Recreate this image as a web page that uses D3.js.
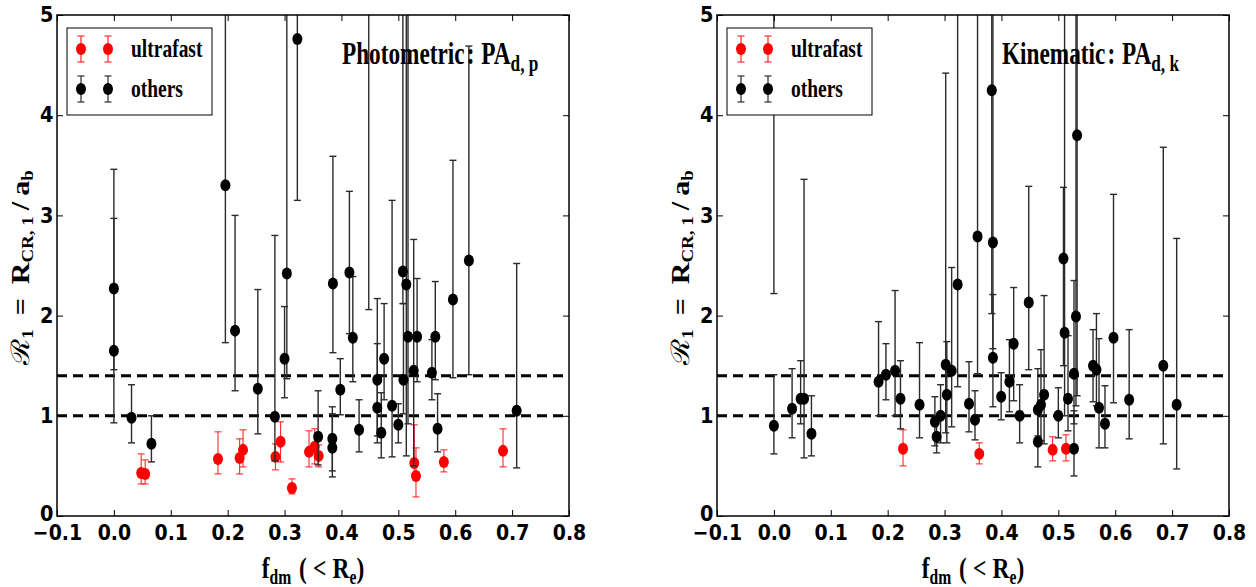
<!DOCTYPE html>
<html>
<head>
<meta charset="utf-8">
<script src="https://cdn.jsdelivr.net/npm/d3@7"></script>
<style>
  body { margin: 0; background: #fff; }
  svg { display: block; }
</style>
</head>
<body>
<div id="chart"></div>
<script>

// axis ticks and reference levels
var fdmTicks = [-0.1, 0.0, 0.1, 0.2, 0.3, 0.4, 0.5, 0.6, 0.7, 0.8];
var ratioTicks = [0, 1, 2, 3, 4, 5];
var refLines = [1.0, 1.4];
var seriesNames = ["ultrafast", "others"];

// rows are [f_dm, R, lower end of error bar, upper end of error bar]
var photUltrafast = [
    [0.048, 0.43, 0.32, 0.62], [0.055, 0.42, 0.32, 0.56], [0.183, 0.57, 0.42, 0.84],
    [0.221, 0.58, 0.42, 0.77], [0.227, 0.66, 0.49, 0.86], [0.284, 0.59, 0.46, 0.72],
    [0.293, 0.74, 0.54, 0.94], [0.313, 0.28, 0.22, 0.37], [0.343, 0.64, 0.49, 0.85],
    [0.353, 0.69, 0.52, 0.87], [0.360, 0.60, 0.49, 0.71], [0.528, 0.53, 0.42, 0.91],
    [0.531, 0.40, 0.19, 0.68], [0.580, 0.54, 0.44, 0.66], [0.684, 0.65, 0.49, 0.87]
];
var photOthers = [
    [0.000, 2.27, 1.46, 3.46], [0.000, 1.65, 0.93, 2.97], [0.031, 0.98, 0.73, 1.31],
    [0.066, 0.72, 0.54, 1.00], [0.196, 3.30, 1.73, 9.00], [0.213, 1.85, 1.25, 3.00],
    [0.253, 1.27, 0.82, 2.26], [0.283, 0.99, 0.55, 2.80], [0.300, 1.57, 1.18, 2.09],
    [0.304, 2.42, 1.37, 9.00], [0.3225, 4.76, 3.15, 9.00], [0.359, 0.79, 0.51, 1.25],
    [0.385, 2.32, 1.63, 3.59], [0.384, 0.77, 0.45, 1.09], [0.384, 0.68, 0.39, 1.02],
    [0.398, 1.26, 1.01, 1.57], [0.414, 2.43, 1.82, 3.24], [0.420, 1.78, 1.34, 2.39],
    [0.431, 0.86, 0.64, 1.16], [0.448, 5.60, 2.06, 9.00], [0.463, 1.36, 0.73, 2.17],
    [0.463, 1.08, 0.80, 1.72], [0.470, 0.83, 0.58, 1.23], [0.475, 1.57, 1.16, 2.12],
    [0.489, 1.10, 0.59, 3.15], [0.500, 0.91, 0.73, 1.12], [0.508, 2.44, 2.12, 9.00],
    [0.509, 1.36, 1.02, 2.12], [0.514, 2.31, 0.60, 9.00], [0.517, 1.79, 0.92, 9.00],
    [0.527, 1.45, 0.50, 2.76], [0.533, 1.79, 1.34, 2.37], [0.559, 1.43, 1.16, 1.76],
    [0.565, 1.79, 1.36, 2.34], [0.569, 0.87, 0.64, 1.22], [0.596, 2.16, 1.38, 3.55],
    [0.624, 2.55, 1.41, 4.69], [0.708, 1.05, 0.48, 2.52]
];
var kinUltrafast = [
    [0.227, 0.67, 0.50, 0.86], [0.361, 0.62, 0.52, 0.73],
    [0.490, 0.66, 0.55, 0.79], [0.5135, 0.67, 0.55, 0.81]
];
var kinOthers = [
    [0.000, 0.90, 0.62, 1.41], [0.000, 5.80, 2.22, 9.00], [0.032, 1.07, 0.78, 1.47],
    [0.047, 1.17, 0.92, 1.55], [0.053, 1.17, 0.58, 3.36], [0.066, 0.82, 0.60, 1.20],
    [0.184, 1.34, 1.00, 1.94], [0.197, 1.41, 1.16, 1.72], [0.213, 1.45, 1.00, 2.25],
    [0.2225, 1.17, 0.87, 1.55], [0.256, 1.11, 0.78, 1.73], [0.283, 0.94, 0.70, 1.19],
    [0.286, 0.79, 0.63, 1.00], [0.293, 1.00, 0.73, 1.31], [0.302, 1.51, 0.83, 4.42],
    [0.304, 1.21, 0.73, 1.74], [0.3125, 1.45, 0.89, 2.48], [0.323, 2.31, 1.29, 9.00],
    [0.343, 1.12, 0.84, 1.54], [0.3535, 0.96, 0.76, 1.25], [0.358, 2.79, 1.42, 9.00],
    [0.383, 4.25, 2.02, 9.00], [0.385, 2.73, 1.67, 9.00], [0.385, 1.58, 1.09, 2.21],
    [0.3995, 1.19, 0.96, 1.43], [0.414, 1.34, 1.04, 1.76], [0.4215, 1.72, 1.15, 2.28],
    [0.432, 1.00, 0.73, 1.31], [0.448, 2.13, 1.46, 3.29], [0.464, 1.06, 0.80, 1.47],
    [0.464, 0.74, 0.49, 1.10], [0.4695, 1.11, 0.75, 1.66], [0.475, 1.21, 0.72, 2.20],
    [0.500, 1.00, 0.78, 1.28], [0.509, 2.57, 1.50, 3.28], [0.511, 1.83, 1.00, 9.00],
    [0.517, 1.17, 0.85, 1.80], [0.5275, 1.42, 0.92, 2.35], [0.531, 1.99, 1.10, 9.00],
    [0.533, 3.80, 1.20, 9.00], [0.5275, 0.67, 0.40, 1.05], [0.561, 1.50, 1.14, 1.86],
    [0.567, 1.46, 1.10, 2.02], [0.5715, 1.08, 0.68, 1.77], [0.582, 0.92, 0.68, 1.30],
    [0.597, 1.78, 1.13, 3.21], [0.6245, 1.16, 0.77, 1.86], [0.6845, 1.50, 0.72, 3.68],
    [0.708, 1.11, 0.47, 2.77]
];

var W = 1256, H = 587;
var plotW = 512, plotH = 501, plotTop = 15;
var serif = "'Liberation Serif', 'Times New Roman', serif";
var sans = "'DejaVu Sans', sans-serif";

var svg = d3.select("#chart").append("svg")
    .attr("width", W)
    .attr("height", H);

drawPanel(57, "p0", "Photometric", "d, p", photUltrafast, photOthers);
drawPanel(717, "p1", "Kinematic", "d, k", kinUltrafast, kinOthers);

function drawPanel(left, id, title, titleSub, ultra, others) {

    var x = d3.scaleLinear().domain([-0.1, 0.8]).range([0, plotW]);
    var y = d3.scaleLinear().domain([0, 5]).range([plotH, 0]);

    var g = svg.append("g")
        .attr("transform", "translate(" + left + "," + plotTop + ")");

    g.append("clipPath").attr("id", "clip-" + id)
        .append("rect")
        .attr("width", plotW)
        .attr("height", plotH);

    var inner = g.append("g").attr("clip-path", "url(#clip-" + id + ")");

    // dashed reference levels
    inner.selectAll("line.ref").data(refLines).enter().append("line")
        .attr("class", "ref")
        .attr("x1", 0).attr("x2", plotW)
        .attr("y1", function(d) { return y(d); })
        .attr("y2", function(d) { return y(d); })
        .attr("stroke", "#000")
        .attr("stroke-width", 3)
        .attr("stroke-dasharray", "10,6");

    drawSeries(inner, x, y, ultra, "#ff0000", "#ff2a2a", 1.1);
    drawSeries(inner, x, y, others, "#000000", "#2b2b2b", 1.4);

    // axes with inward ticks
    var tickText = function(sel) {
        sel.selectAll("text")
            .style("font-family", sans)
            .style("font-weight", "bold")
            .style("font-size", "21px")
            .attr("fill", "#000");
    };

    g.append("g")
        .attr("transform", "translate(0," + plotH + ")")
        .call(d3.axisBottom(x).tickValues(fdmTicks).tickFormat(d3.format(".1f")).tickSize(-6).tickPadding(9))
        .call(function(a) { a.select(".domain").remove(); })
        .call(tickText)
        .call(function(a) { a.selectAll("text").attr("transform", "scale(0.9,1)"); });

    g.append("g")
        .call(d3.axisTop(x).tickValues(fdmTicks).tickFormat("").tickSize(-6))
        .call(function(a) { a.select(".domain").remove(); });

    g.append("g")
        .call(d3.axisLeft(y).tickValues(ratioTicks).tickFormat(d3.format("d")).tickSize(-6).tickPadding(4))
        .call(function(a) { a.select(".domain").remove(); })
        .call(tickText)
        .call(function(a) {
            a.selectAll("text").attr("transform", "scale(0.92,1)");
            // lift the bottom label a little so it clears the x tick labels
            a.selectAll(".tick").filter(function(d) { return d === 0; })
                .select("text").attr("dy", "0.2em");
        });

    g.append("g")
        .attr("transform", "translate(" + plotW + ",0)")
        .call(d3.axisRight(y).tickValues(ratioTicks).tickFormat("").tickSize(-6))
        .call(function(a) { a.select(".domain").remove(); });

    g.selectAll(".tick line").attr("stroke", "#000").attr("stroke-width", 1);

    g.append("rect")
        .attr("width", plotW)
        .attr("height", plotH)
        .attr("fill", "none")
        .attr("stroke", "#000")
        .attr("stroke-width", 1.5);

    // title inside the frame
    var t = g.append("text")
        .attr("transform", "translate(285,49) scale(0.75,1)")
        .style("font-family", serif)
        .style("font-weight", "bold")
        .style("font-size", "31px");
    t.append("tspan").text(title);
    t.append("tspan").attr("dx", 3).text(":");
    t.append("tspan").attr("dx", 9).text("PA");
    t.append("tspan").attr("dy", 7).style("font-size", "23px").text(titleSub);

    // x label
    var xl = g.append("text")
        .attr("transform", "translate(" + (plotW / 2) + ",563) scale(0.78,1)")
        .attr("text-anchor", "middle")
        .style("font-family", serif)
        .style("font-weight", "bold")
        .style("font-size", "30px");
    xl.append("tspan").text("f");
    xl.append("tspan").attr("dy", 6).style("font-size", "20px").text("dm");
    xl.append("tspan").attr("dy", -6).attr("dx", 10).text("(");
    xl.append("tspan").attr("dx", 8).text("<");
    xl.append("tspan").attr("dx", 8).text("R");
    xl.append("tspan").attr("dy", 6).style("font-size", "20px").text("e");
    xl.append("tspan").attr("dy", -6).text(")");

    // y label
    var yl = g.append("text")
        .attr("transform", "translate(-28," + (plotH / 2 + 2) + ") rotate(-90) scale(1,0.85)")
        .attr("text-anchor", "middle")
        .style("font-family", serif)
        .style("font-weight", "bold")
        .style("font-size", "30px");
    yl.append("tspan").style("font-weight", "normal").style("font-family", "'DejaVu Serif', serif").text("\u211B");
    yl.append("tspan").attr("dy", 5).style("font-size", "19px").text("1");
    yl.append("tspan").attr("dy", -5).attr("dx", 14).text("=");
    yl.append("tspan").attr("dx", 14).text("R");
    yl.append("tspan").attr("dy", 5).style("font-size", "19px").text("CR, 1");
    yl.append("tspan").attr("dy", -5).attr("dx", 6).text("/");
    yl.append("tspan").attr("dx", 6).text("a");
    yl.append("tspan").attr("dy", 5).style("font-size", "19px").text("b");

    // legend
    var lg = g.append("g").attr("transform", "translate(10,13)");
    lg.append("rect")
        .attr("width", 145)
        .attr("height", 87)
        .attr("fill", "#fff")
        .attr("stroke", "#000")
        .attr("stroke-width", 1);

    var entries = [
        { name: seriesNames[0], fill: "#ff0000", bar: "#ff2a2a" },
        { name: seriesNames[1], fill: "#000000", bar: "#2b2b2b" }
    ];
    entries.forEach(function(e, i) {
        var cy = 21 + i * 40;
        [14, 41].forEach(function(cx) {
            lg.append("line")
                .attr("x1", cx).attr("x2", cx)
                .attr("y1", cy - 13).attr("y2", cy + 13)
                .attr("stroke", e.bar).attr("stroke-width", 1.2);
            [cy - 13, cy + 13].forEach(function(cyy) {
                lg.append("line")
                    .attr("x1", cx - 3.5).attr("x2", cx + 3.5)
                    .attr("y1", cyy).attr("y2", cyy)
                    .attr("stroke", e.bar).attr("stroke-width", 1.2);
            });
            lg.append("ellipse")
                .attr("cx", cx).attr("cy", cy)
                .attr("rx", 5).attr("ry", 6)
                .attr("fill", e.fill);
        });
        lg.append("text")
            .attr("transform", "translate(64," + (cy + 8) + ") scale(0.78,1)")
            .style("font-family", serif)
            .style("font-weight", "bold")
            .style("font-size", "25px")
            .text(e.name);
    });
}

function drawSeries(sel, x, y, data, fill, barColor, barWidth) {
    var grp = sel.append("g");
    var bars = grp.selectAll("g.bar").data(data).enter().append("g").attr("class", "bar");

    bars.append("line")
        .attr("x1", function(d) { return x(d[0]); })
        .attr("x2", function(d) { return x(d[0]); })
        .attr("y1", function(d) { return y(d[2]); })
        .attr("y2", function(d) { return y(d[3]); })
        .attr("stroke", barColor)
        .attr("stroke-width", barWidth);

    [2, 3].forEach(function(k) {
        bars.append("line")
            .attr("x1", function(d) { return x(d[0]) - 3.5; })
            .attr("x2", function(d) { return x(d[0]) + 3.5; })
            .attr("y1", function(d) { return y(d[k]); })
            .attr("y2", function(d) { return y(d[k]); })
            .attr("stroke", barColor)
            .attr("stroke-width", barWidth);
    });

    grp.selectAll("ellipse").data(data).enter().append("ellipse")
        .attr("cx", function(d) { return x(d[0]); })
        .attr("cy", function(d) { return y(d[1]); })
        .attr("rx", 5)
        .attr("ry", 6)
        .attr("fill", fill);
}

</script>
</body>
</html>
